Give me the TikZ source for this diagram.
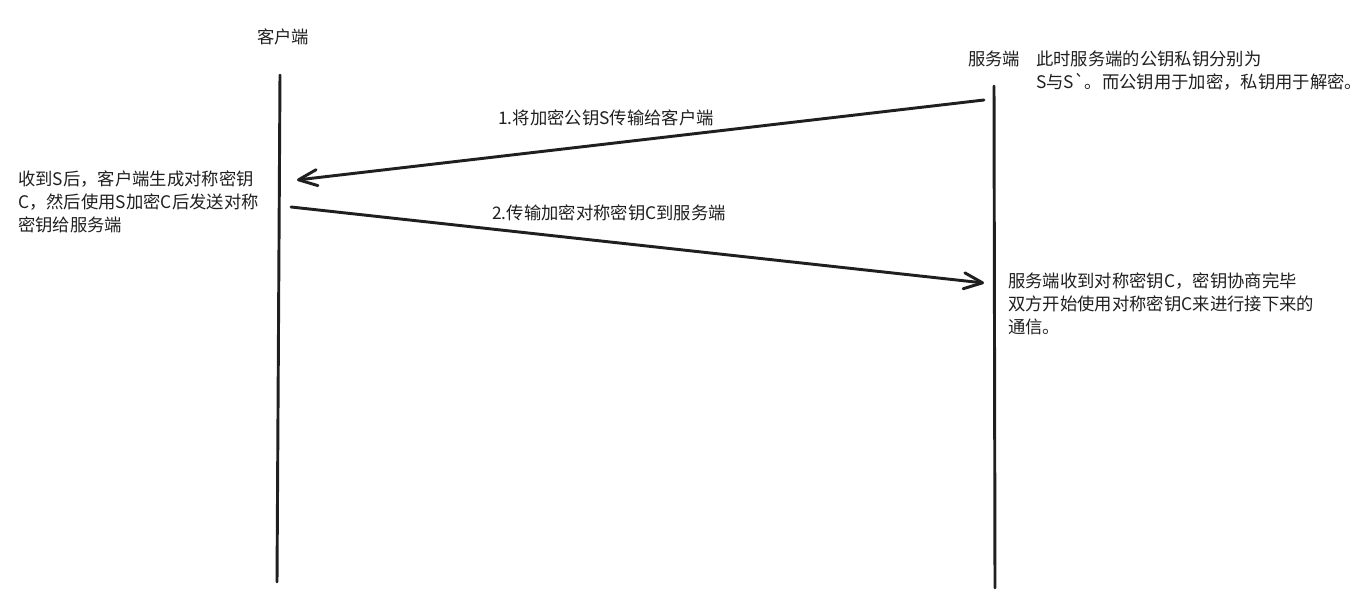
\documentclass[tikz,border=0pt]{standalone}
\usepackage{fontspec}
\setmainfont{Noto Sans CJK SC}
\newfontfamily\plainfont{Noto Sans CJK SC}
\usetikzlibrary{arrows.meta,positioning}

\begin{document}
\begin{tikzpicture}[
    x=0.75pt, y=-0.75pt,
    lifeline/.style={draw=black!88, line width=2.2pt, line cap=round},
    msg/.style={draw=black!88, line width=2.2pt, line cap=round, -{Straight Barb[length=14pt, width=12pt, round]}},
    party/.style={inner sep=0pt, anchor=base, font=\fontsize{13}{17.25}\selectfont, text=black!88},
    note/.style={inner sep=0pt, anchor=base west, align=left, font=\fontsize{13}{17.25}\selectfont, text=black!88},
    msglabel/.style={inner sep=0pt, anchor=base, font=\fontsize{13}{17.25}\selectfont, text=black!88}
]
\useasboundingbox (0,0) rectangle (1367,616);

\coordinate (ctop) at (280,75);
\coordinate (cbot) at (277,582);
\coordinate (stop) at (994,86);
\coordinate (sbot) at (995,588);

\node[party] (client) at (283,44) {客户端};
\node[party] (server) at (994,66) {服务端};

\node[note] (keynote) at (1036,89) {此时服务端的公钥私钥分别为\\S与S{\plainfont `}。而公钥用于加密，私钥用于解密。};
\node[note] (clientnote) at (18,232) {收到S后，客户端生成对称密钥\\C，然后使用S加密C后发送对称\\密钥给服务端};
\node[note] (servernote) at (1008,334) {服务端收到对称密钥C，密钥协商完毕\\双方开始使用对称密钥C来进行接下来的\\通信。};

\coordinate (m1s) at (984,100);
\coordinate (m1e) at (297,180);
\coordinate (m2s) at (291,207);
\coordinate (m2e) at (984,283);

\node[msglabel] (m1label) at (606,125) {1.将加密公钥S传输给客户端};
\node[msglabel] (m2label) at (609,220) {2.传输加密对称密钥C到服务端};

\draw[lifeline] (ctop) -- (cbot);
\draw[lifeline] (stop) -- (sbot);
\draw[msg] (m1s) -- (m1e);
\draw[msg] (m2s) -- (m2e);
\end{tikzpicture}
\end{document}
